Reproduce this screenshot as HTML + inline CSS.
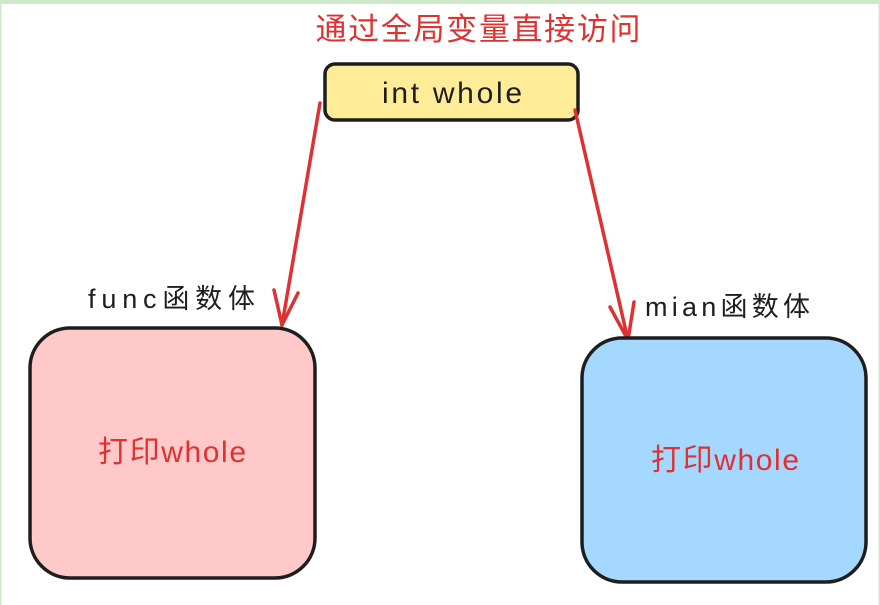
<!DOCTYPE html>
<html><head><meta charset="utf-8"><style>
html,body{margin:0;padding:0;background:#fff;}
svg{display:block;}
text{font-family:"Liberation Sans","Noto Sans CJK SC",sans-serif;}
</style></head><body>
<svg width="880" height="605" viewBox="0 0 880 605" xmlns="http://www.w3.org/2000/svg">
<rect x="0" y="0" width="880" height="605" fill="#fff"/>
<rect x="0" y="0" width="880" height="4" fill="#cfe8cc"/>
<rect x="0" y="0" width="1.5" height="605" fill="#cfe8cc"/>
<rect x="878.5" y="0" width="1.5" height="605" fill="#cfe8cc"/>
<text x="478" y="40" font-size="31" fill="#e03131" text-anchor="middle" textLength="325">通过全局变量直接访问</text>
<rect x="325" y="64" width="253" height="56" rx="10" fill="#ffec99" stroke="#1e1e1e" stroke-width="3.5"/>
<text x="452" y="103" font-size="30" fill="#1e1e1e" text-anchor="middle" textLength="140">int whole</text>
<g stroke="#e03131" stroke-width="3.5" fill="none" stroke-linecap="round">
<path d="M320 103 L282 325"/>
<path d="M274 290 L282 325 L298 293"/>
<path d="M575 110 L628 340"/>
<path d="M610 307 L628 340 L634 302"/>
</g>
<text x="88" y="308" font-size="27" fill="#1e1e1e" textLength="167">func函数体</text>
<text x="645" y="316" font-size="27" fill="#1e1e1e" textLength="165">mian函数体</text>
<rect x="30" y="328" width="285" height="250" rx="40" fill="#ffc9c9" stroke="#1e1e1e" stroke-width="3.5"/>
<rect x="582" y="338" width="284" height="244" rx="40" fill="#a5d8ff" stroke="#1e1e1e" stroke-width="3.5"/>
<text x="172" y="462" font-size="30" fill="#e03131" text-anchor="middle" textLength="148">打印whole</text>
<text x="725" y="470" font-size="30" fill="#e03131" text-anchor="middle" textLength="148">打印whole</text>
</svg>
</body></html>
